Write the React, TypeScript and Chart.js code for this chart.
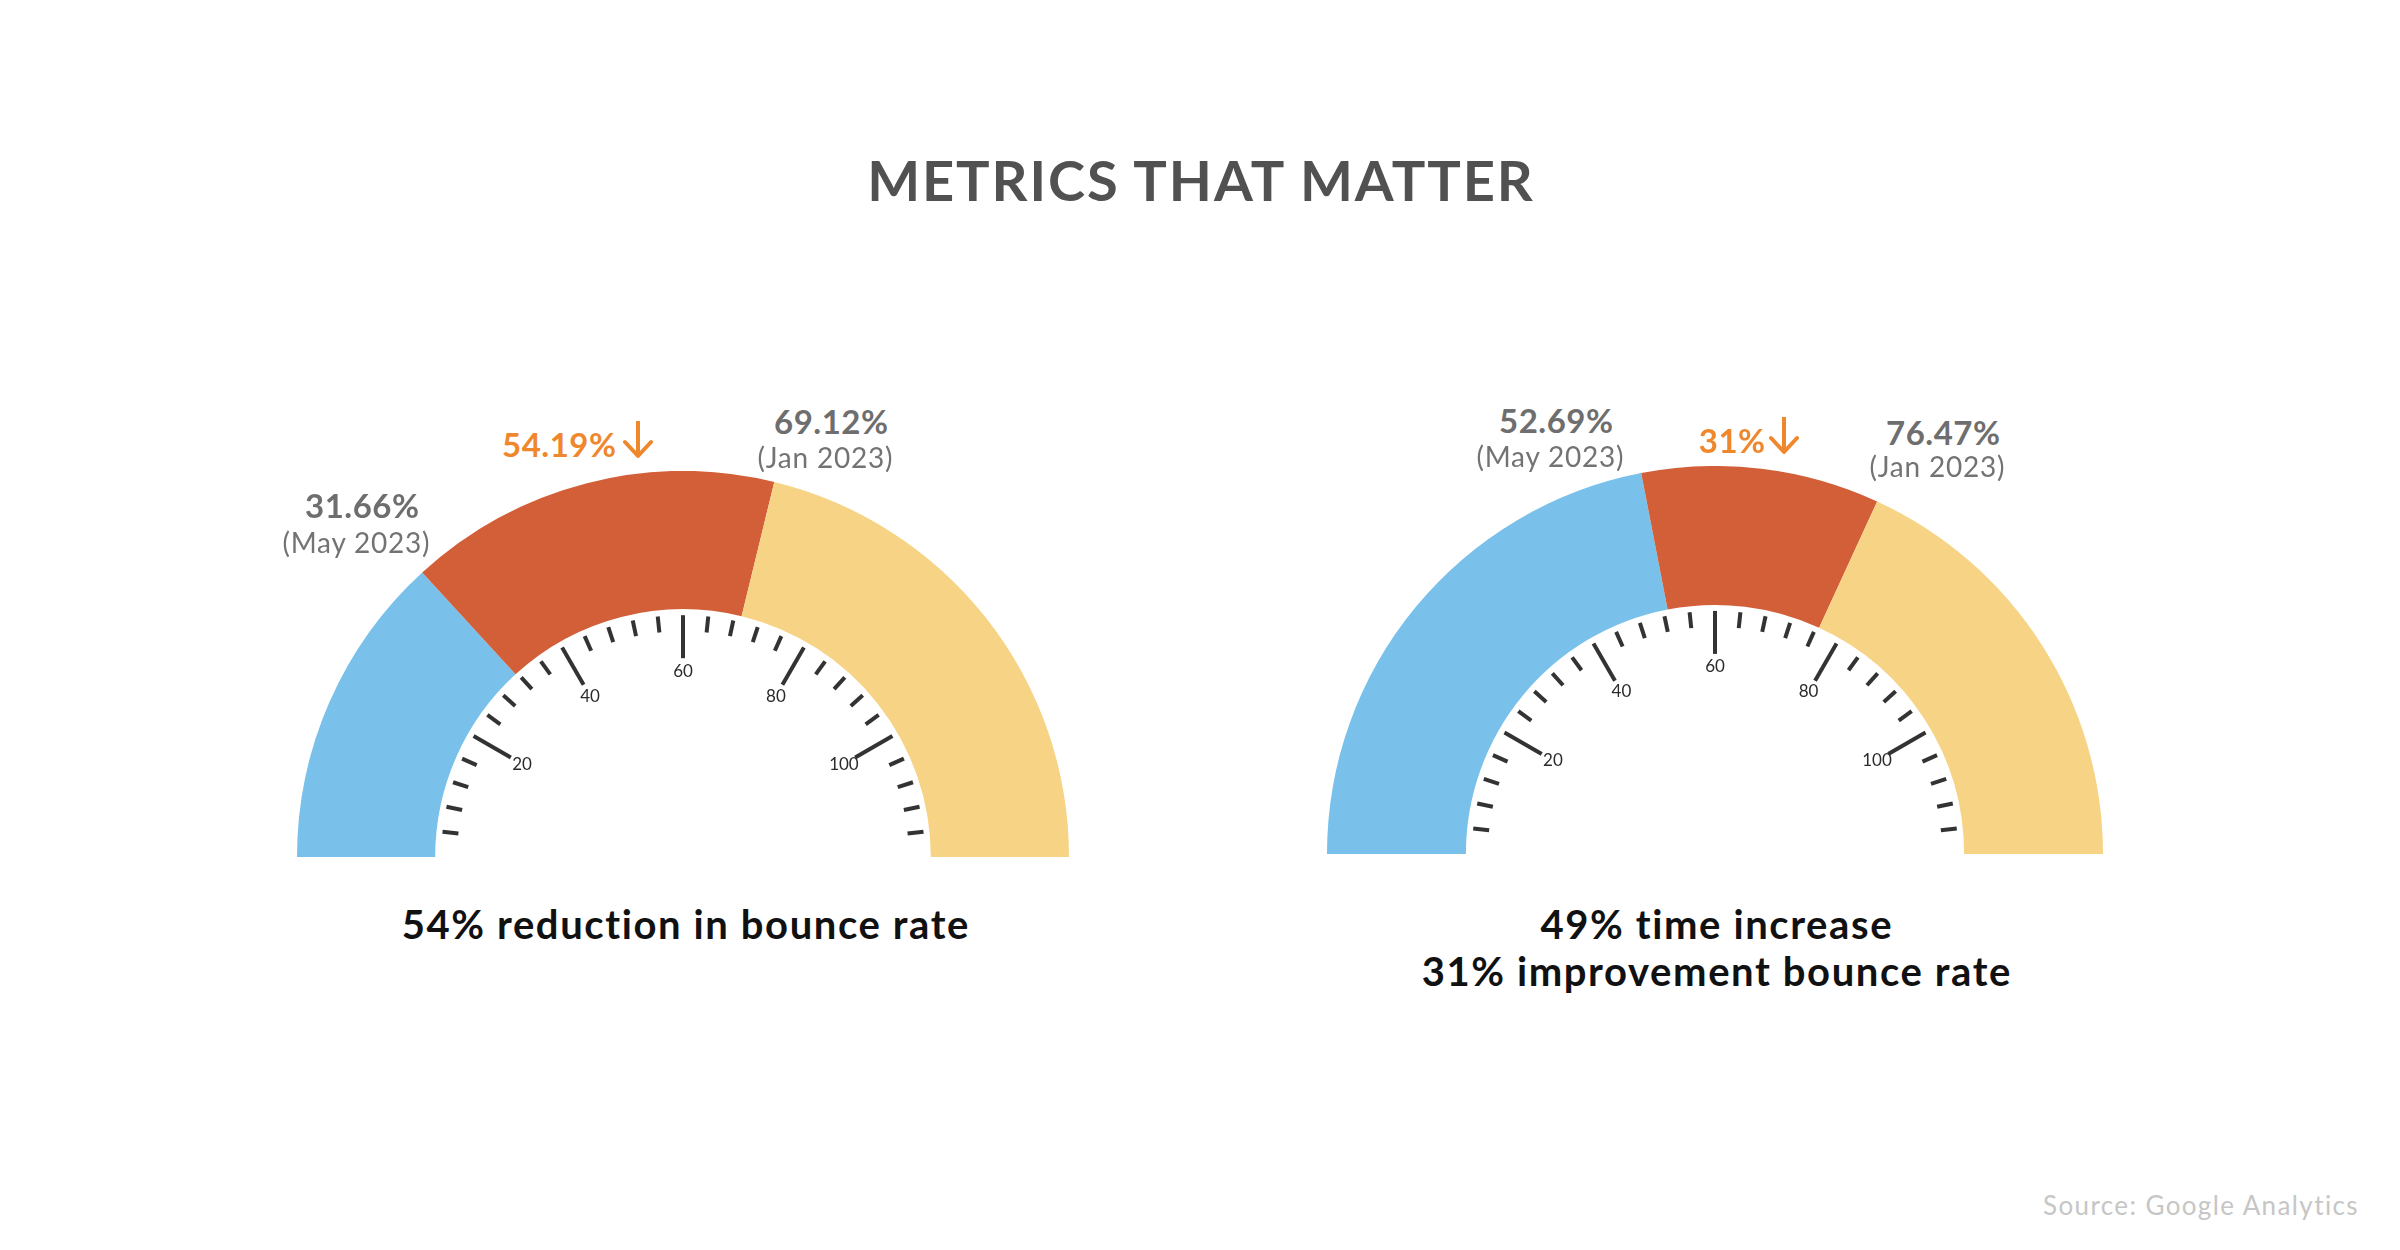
import React, { useEffect, useRef } from "react";
import { Chart, registerables } from "chart.js";

Chart.register(...registerables);

// Gauge scale runs 0..120 across the half circle
const SCALE_MAX = 120;
const MINOR_STEP = 4;
const TICK_LABELS = [20, 40, 60, 80, 100];

// Bounce rate gauge and time gauge
const mayValues = [31.66, 52.69];
const janValues = [69.12, 76.47];
const changeLabels = ["54.19%", "31%"];
const mayLabel = "(May 2023)";
const janLabel = "(Jan 2023)";
const captions = [
  ["54% reduction in bounce rate"],
  ["49% time increase", "31% improvement bounce rate"],
];

const SEGMENT_COLORS = ["#79C1EA", "#D35F38", "#F7D385"];
const FONT = "Lato, 'Open Sans', sans-serif";
const ORANGE = "#EF872C";
const GREY = "#6E6E6E";

// Placement of each gauge canvas and its labels on the page
const layout = [
  {
    canvas: { left: 297, top: 471, w: 772, h: 386 },
    may: { x: 362, val: 518, date: 553 },
    jan: { x: 831, val: 434, date: 468 },
    change: { x: 559, base: 457, arrowX: 638, arrowTop: 421 },
    caption: { x: 685, base: 939 },
  },
  {
    canvas: { left: 1327, top: 466, w: 776, h: 388 },
    may: { x: 1556, val: 433, date: 467 },
    jan: { x: 1943, val: 445, date: 477 },
    change: { x: 1732, base: 453, arrowX: 1784, arrowTop: 417 },
    caption: { x: 1716, base: 939 },
  },
];

const fmt = (v: number) => `${v.toFixed(2)}%`;

const tickPlugin = {
  id: "gaugeTicks",
  afterDatasetsDraw(chart: any) {
    const arc = chart.getDatasetMeta(0).data[0];
    if (!arc) return;
    const { x, y, innerRadius } = arc.getProps(["x", "y", "innerRadius"], true);
    const ctx = chart.ctx;
    ctx.save();
    ctx.strokeStyle = "#333333";
    ctx.fillStyle = "#2b2b2b";
    ctx.lineWidth = 4;
    ctx.lineCap = "butt";
    const outer = innerRadius - 6;
    for (let v = MINOR_STEP; v < SCALE_MAX; v += MINOR_STEP) {
      const major = TICK_LABELS.includes(v);
      const a = Math.PI + (v / SCALE_MAX) * Math.PI;
      const inner = outer - (major ? 43 : 16);
      ctx.beginPath();
      ctx.moveTo(x + Math.cos(a) * outer, y + Math.sin(a) * outer);
      ctx.lineTo(x + Math.cos(a) * inner, y + Math.sin(a) * inner);
      ctx.stroke();
    }
    ctx.font = `17px ${FONT}`;
    ctx.textAlign = "center";
    ctx.textBaseline = "middle";
    const lr = innerRadius - 62;
    for (const v of TICK_LABELS) {
      const a = Math.PI + (v / SCALE_MAX) * Math.PI;
      ctx.fillText(String(v), x + Math.cos(a) * lr, y + Math.sin(a) * lr);
    }
    ctx.restore();
  },
};

function Gauge({ index }: { index: number }) {
  const ref = useRef<HTMLCanvasElement | null>(null);
  const box = layout[index].canvas;
  useEffect(() => {
    if (!ref.current) return;
    const may = mayValues[index];
    const jan = janValues[index];
    const chart = new Chart(ref.current, {
      type: "doughnut",
      data: {
        labels: ["May 2023", "Change", "Jan 2023"],
        datasets: [
          {
            data: [may, jan - may, SCALE_MAX - jan],
            backgroundColor: SEGMENT_COLORS,
            borderWidth: 0,
          },
        ],
      },
      options: {
        responsive: false,
        animation: false,
        rotation: -90,
        circumference: 180,
        cutout: "64.2%",
        layout: { padding: 0 },
        plugins: { legend: { display: false }, tooltip: { enabled: false } },
        events: [],
      },
      plugins: [tickPlugin],
    });
    return () => chart.destroy();
  }, [index]);
  return (
    <canvas
      ref={ref}
      width={box.w}
      height={box.h}
      style={{ position: "absolute", left: box.left, top: box.top, width: box.w, height: box.h }}
    />
  );
}

function Text({
  x,
  base,
  size,
  weight = 400,
  color,
  spacing = 0,
  children,
}: {
  x: number;
  base: number;
  size: number;
  weight?: number;
  color: string;
  spacing?: number;
  children: React.ReactNode;
}) {
  return (
    <div
      style={{
        position: "absolute",
        left: x + spacing / 2,
        top: base - 0.887 * size,
        transform: "translateX(-50%)",
        fontFamily: FONT,
        fontSize: size,
        fontWeight: weight,
        letterSpacing: spacing,
        lineHeight: 1,
        color,
        whiteSpace: "nowrap",
      }}
    >
      {children}
    </div>
  );
}

function DownArrow({ x, top }: { x: number; top: number }) {
  return (
    <svg
      width={32}
      height={38}
      viewBox="0 0 32 38"
      style={{ position: "absolute", left: x - 16, top }}
    >
      <path
        d="M16 1 L16 35 M3 21 L16 35 L29 21"
        fill="none"
        stroke={ORANGE}
        strokeWidth={4}
        strokeLinecap="round"
        strokeLinejoin="round"
      />
    </svg>
  );
}

export default function App() {
  return (
    <div
      style={{
        position: "fixed",
        left: 0,
        top: 0,
        width: 2400,
        height: 1250,
        background: "#ffffff",
        overflow: "hidden",
      }}
    >
      <Text x={1200} base={202} size={56} weight={700} color="#515151" spacing={1.9}>
        METRICS THAT MATTER
      </Text>
      {layout.map((l, i) => (
        <React.Fragment key={i}>
          <Gauge index={i} />
          <Text x={l.may.x} base={l.may.val} size={33} weight={700} color={GREY} spacing={0.5}>
            {fmt(mayValues[i])}
          </Text>
          <Text x={l.may.x - 6} base={l.may.date} size={28} color="#737373" spacing={0.8}>
            {mayLabel}
          </Text>
          <Text x={l.jan.x} base={l.jan.val} size={33} weight={700} color={GREY} spacing={0.5}>
            {fmt(janValues[i])}
          </Text>
          <Text x={l.jan.x - 6} base={l.jan.date} size={28} color="#737373" spacing={0.8}>
            {janLabel}
          </Text>
          <Text x={l.change.x} base={l.change.base} size={33} weight={700} color={ORANGE} spacing={0.5}>
            {changeLabels[i]}
          </Text>
          <DownArrow x={l.change.arrowX} top={l.change.arrowTop} />
          {captions[i].map((c, k) => (
            <Text
              key={k}
              x={l.caption.x}
              base={l.caption.base + k * 47}
              size={40}
              weight={700}
              color="#111111"
              spacing={1.6}
            >
              {c}
            </Text>
          ))}
        </React.Fragment>
      ))}
      <div
        style={{
          position: "absolute",
          right: 41,
          top: 1215 - 0.887 * 26,
          fontFamily: FONT,
          fontSize: 26,
          letterSpacing: 1.4,
          lineHeight: 1,
          color: "#C6C6C6",
          whiteSpace: "nowrap",
        }}
      >
        Source: Google Analytics
      </div>
    </div>
  );
}
